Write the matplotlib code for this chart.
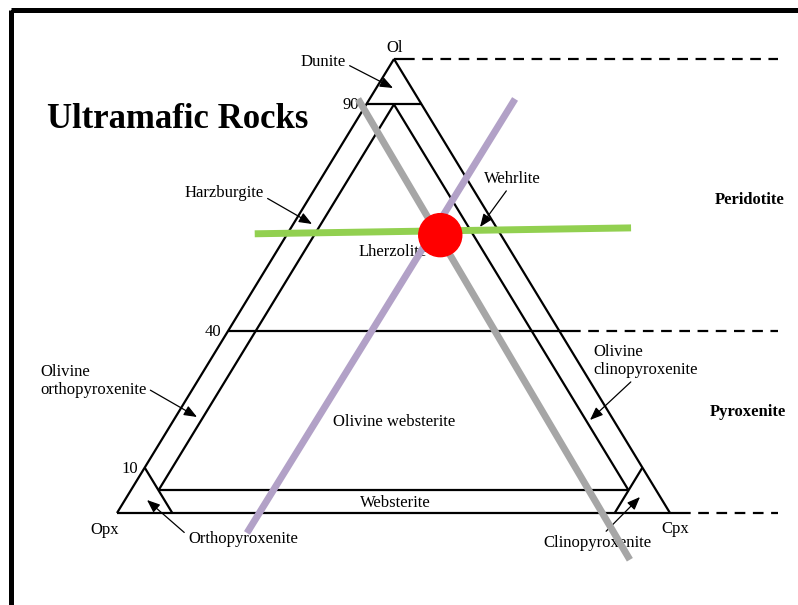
#!/usr/bin/env python

"""Ternary classification of ultramafic rocks (Ol - Opx - Cpx).

Field boundaries are given as compositions (Ol, Opx, Cpx in %),
with one sample point and its three isopleths highlighted on top.
"""

import matplotlib
matplotlib.use("Agg")
import matplotlib.pyplot as plt
from matplotlib.patches import Rectangle, Circle

plt.rcParams["font.family"] = ["Liberation Serif", "DejaVu Serif"]

# corner names of the diagram
corners = ["Ol", "Opx", "Cpx"]

# field boundaries, each a pair of compositions (Ol, Opx, Cpx)
boundaries = [
    [(100, 0, 0), (0, 100, 0)],
    [(0, 100, 0), (0, 0, 100)],
    [(0, 0, 100), (100, 0, 0)],
    [(90, 10, 0), (90, 0, 10)],
    [(40, 60, 0), (40, 0, 60)],
    [(5, 90, 5), (5, 5, 90)],
    [(90, 5, 5), (5, 90, 5)],
    [(90, 5, 5), (5, 5, 90)],
    [(10, 90, 0), (0, 90, 10)],
    [(10, 0, 90), (0, 10, 90)],
]

# olivine values marked on the Ol-Opx side
ol_ticks = [90, 40, 10]
ol_tick_labels = ["90", "40", "10"]

# olivine levels continued as dashed lines to the right
dashed_levels = [100, 40, 0]

# sample composition and its three guide lines
sample = (61.2, 11.0, 27.8)
ol_guide = [(61.5, 44.4, -5.9), (62.8, -24.3, 61.5)]
cpx_guide = [(-4.4, 78.7, 25.7), (91.2, -17.5, 26.3)]
opx_guide = [(91.2, 10.9, -2.1), (-10.3, 12.4, 97.9)]

# rock names: (text, text position, arrow tip, arrow start on the text)
field_names = [
    ("Dunite", (323, 62), (393, 88), (1.0, 0.4)),
    ("Harzburgite", (224, 193), (312, 224), (1.0, 0.3)),
    ("Wehrlite", (512, 179), (480, 227), (0.45, 0.0)),
    ("Lherzolite", (393, 252), None, None),
    ("Olivine websterite", (394, 422), None, None),
    ("Websterite", (395, 503), None, None),
    ("Orthopyroxenite", (243, 539), (147, 500), (0.0, 0.7)),
    ("Clinopyroxenite", (597, 543), (640, 497), (0.55, 1.0)),
]

group_names = [("Peridotite", (750, 200)), ("Pyroxenite", (748, 412))]

W, H = 798, 605
# pixel positions of the three corners
CORNER_XY = {"Ol": (394, 59), "Opx": (117, 513), "Cpx": (670, 513)}
FS = 12


def tern(comp):
    """Composition (Ol, Opx, Cpx) in % -> position on the page."""
    ol, opx, cpx = (c / 100.0 for c in comp)
    x = sum(f * CORNER_XY[k][0] for f, k in zip((ol, opx, cpx), corners))
    y = sum(f * CORNER_XY[k][1] for f, k in zip((ol, opx, cpx), corners))
    return x, y


def segment(ax, pair, **kw):
    (x0, y0), (x1, y1) = tern(pair[0]), tern(pair[1])
    ax.plot([x0, x1], [y0, y1], **kw)


fig = plt.figure(figsize=(W / 100, H / 100), dpi=100)
ax = fig.add_axes([0, 0, 1, 1])
ax.set_xlim(0, W)
ax.set_ylim(H, 0)
ax.axis("off")

# slide frame (only top and left edges are in view)
ax.add_patch(Rectangle((11, 10), 1000, 1000, fill=False, lw=3.6,
                       edgecolor="black", zorder=1))

ax.text(178, 120, "Ultramafic Rocks", fontsize=25, fontweight="bold",
        ha="center", va="center")

for pair in boundaries:
    segment(ax, pair, color="black", lw=1.6, solid_capstyle="butt", zorder=2)

for level in dashed_levels:
    x0, y0 = tern((level, 0, 100 - level))
    ax.plot([x0, x0 + 10], [y0, y0], color="black", lw=1.6,
            solid_capstyle="butt", zorder=2)
    ax.plot([x0 + 10, 778], [y0, y0], color="black", lw=1.6,
            dashes=(4.8, 3.4), zorder=2)

for v, lab in zip(ol_ticks, ol_tick_labels):
    x, y = tern((v, 100 - v, 0))
    ax.text(x - 7, y + 1, lab, fontsize=FS, ha="right", va="center")

ax.text(395, 48, "Ol", fontsize=FS, ha="center", va="center")
ax.text(105, 530, "Opx", fontsize=FS, ha="center", va="center")
ax.text(675, 529, "Cpx", fontsize=FS, ha="center", va="center")

arrow = dict(arrowstyle="-|>,head_length=0.65,head_width=0.26",
             color="black", lw=0.9, shrinkA=1, shrinkB=0)
for name, xy, tip, rel in field_names:
    if tip is None:
        ax.text(xy[0], xy[1], name, fontsize=FS, ha="center", va="center")
    else:
        ax.annotate(name, xy=tip, xytext=xy, fontsize=FS, ha="center",
                    va="center", arrowprops=dict(arrow, relpos=rel))

ax.annotate("Olivine\northopyroxenite", xy=(197, 417), xytext=(40, 381),
            fontsize=FS, ha="left", va="center", multialignment="left",
            arrowprops=dict(arrow, relpos=(1, 0.3)))
ax.annotate("Olivine\nclinopyroxenite", xy=(590, 420), xytext=(593, 361),
            fontsize=FS, ha="left", va="center", multialignment="left",
            arrowprops=dict(arrow, relpos=(0.4, 0)))

for name, xy in group_names:
    ax.text(xy[0], xy[1], name, fontsize=FS, fontweight="bold",
            ha="center", va="center")

# highlighted sample and its isopleths
segment(ax, opx_guide, color="#a6a6a6", lw=5, solid_capstyle="butt",
        zorder=4)
segment(ax, cpx_guide, color="#b2a1c7", lw=5, solid_capstyle="butt",
        zorder=4)
segment(ax, ol_guide, color="#92d050", lw=5, solid_capstyle="butt",
        zorder=4)
ax.add_patch(Circle(tern(sample), 21.5, color="#ff0000", zorder=5))

fig.savefig("out.png", dpi=100)
